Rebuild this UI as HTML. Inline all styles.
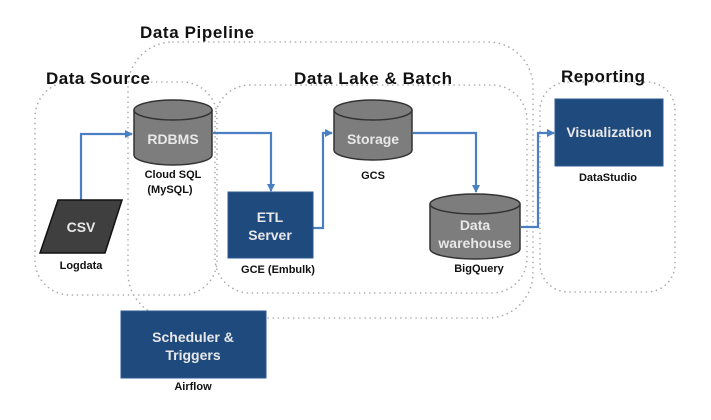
<!DOCTYPE html>
<html><head><style>
html,body{margin:0;padding:0;background:#fff;}
svg{display:block;font-family:"Liberation Sans",Arial,sans-serif;font-weight:bold;}
</style></head><body>
<svg width="711" height="420" viewBox="0 0 711 420" xmlns="http://www.w3.org/2000/svg">
<defs>
<marker id="ah" markerWidth="8" markerHeight="8" refX="7" refY="4" orient="auto" markerUnits="userSpaceOnUse">
<path d="M0,0 L8,4 L0,8 z" fill="#4a7fc1"/></marker>
</defs>
<g fill="none" stroke="#aaaaaa" stroke-width="1.6" stroke-dasharray="0.1 5" stroke-linecap="round">
<rect x="128" y="42" width="405" height="276" rx="45"/>
<rect x="35" y="82" width="182" height="213" rx="35"/>
<rect x="215" y="85" width="312" height="208" rx="35"/>
<rect x="540" y="82" width="135" height="210" rx="28"/>
</g>
<g font-size="17" fill="#111">
<text x="140" y="38" textLength="114">Data Pipeline</text>
<text x="46" y="84" textLength="104">Data Source</text>
<text x="294" y="84" textLength="158">Data Lake &amp; Batch</text>
<text x="561" y="82" textLength="84">Reporting</text>
</g>
<g fill="none" stroke="#4a7fc1" stroke-width="2.2">
<path d="M81,200 V134 H132" marker-end="url(#ah)"/>
<path d="M213,133 H271 V191" marker-end="url(#ah)"/>
<path d="M313,228 H323 V133 H332" marker-end="url(#ah)"/>
<path d="M413,133 H476 V192" marker-end="url(#ah)"/>
<path d="M521,227 H538 V133 H554" marker-end="url(#ah)"/>
</g>
<polygon points="58,200 122,200 105,253 40,253" fill="#3f3f3f" stroke="#111" stroke-width="1.5"/>
<g stroke="#333" stroke-width="1.5" fill="#7d7d7d">
<path d="M134,110 V155 A39,10 0 0 0 212,155 V110"/>
<ellipse cx="173" cy="110" rx="39" ry="10"/>
<path d="M334,110 V150 A39,10 0 0 0 412,150 V110"/>
<ellipse cx="373" cy="110" rx="39" ry="10"/>
<path d="M430,204 V249 A45,10 0 0 0 520,249 V204"/>
<ellipse cx="475" cy="204" rx="45" ry="10"/>
</g>
<g fill="#1f4a7e" stroke="#2d5a90" stroke-width="1">
<rect x="228" y="192" width="85" height="66"/>
<rect x="555" y="99" width="108" height="67"/>
<rect x="121" y="311" width="145" height="67"/>
</g>
<g fill="#e8e8e8" font-size="14" text-anchor="middle">
<text x="81" y="232">CSV</text>
<text x="173" y="144">RDBMS</text>
<text x="373" y="144">Storage</text>
<text x="475" y="230">Data</text>
<text x="475" y="248">warehouse</text>
<text x="270" y="222">ETL</text>
<text x="270" y="240">Server</text>
<text x="609" y="137">Visualization</text>
<text x="193" y="342">Scheduler &amp;</text>
<text x="193" y="360">Triggers</text>
</g>
<g fill="#111" font-size="11" text-anchor="middle">
<text x="81" y="269">Logdata</text>
<text x="173" y="178">Cloud SQL</text>
<text x="170" y="193">(MySQL)</text>
<text x="373" y="179">GCS</text>
<text x="278" y="273">GCE (Embulk)</text>
<text x="479" y="272">BigQuery</text>
<text x="608" y="181">DataStudio</text>
<text x="193" y="390">Airflow</text>
</g>
</svg>
</body></html>
